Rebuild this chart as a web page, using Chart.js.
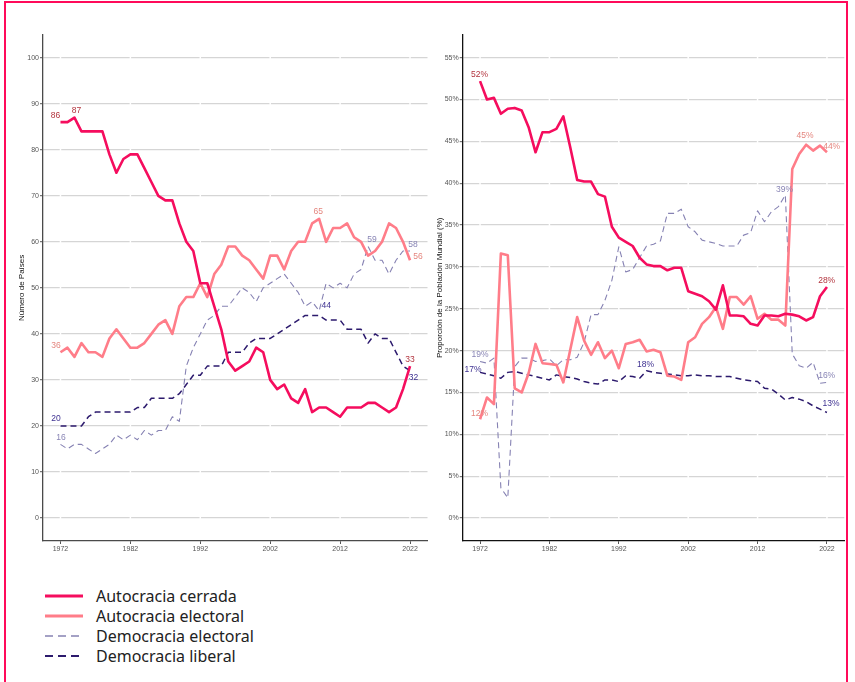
<!DOCTYPE html>
<html lang="es">
<head>
<meta charset="utf-8">
<title>Regímenes políticos en el mundo, 1972–2022</title>
<script src="https://cdn.jsdelivr.net/npm/chart.js@4.4.1/dist/chart.umd.min.js"></script>
<style>
  html, body { margin: 0; padding: 0; background: #fff; }
  body { width: 855px; height: 682px; position: relative; overflow: hidden; }
  #frame { position: absolute; left: 4px; top: 1px; width: 844px; height: 700px;
           border: 2.5px solid #ff0a5a; border-bottom: none; box-sizing: border-box; }
  canvas { position: absolute; top: 0; }
  #countChart { left: 0; }
  #shareChart { left: 435px; }
  .key { position: absolute; left: 0; height: 22px; width: 300px;
         font: 16px "Noto Sans", "Open Sans", sans-serif; line-height: 22px; color: #222; }
  .key svg { position: absolute; left: 45px; top: 8px; }
  .key span { position: absolute; left: 96px; top: 0; white-space: nowrap; }
</style>
</head>
<body>
<div id="frame"></div>
<canvas id="countChart" width="435" height="560"></canvas>
<canvas id="shareChart" width="420" height="560"></canvas>
<div id="legend"></div>

<script>
// Years on the horizontal axis
const years = [1972, 1973, 1974, 1975, 1976, 1977, 1978, 1979, 1980, 1981,
               1982, 1983, 1984, 1985, 1986, 1987, 1988, 1989, 1990, 1991,
               1992, 1993, 1994, 1995, 1996, 1997, 1998, 1999, 2000, 2001,
               2002, 2003, 2004, 2005, 2006, 2007, 2008, 2009, 2010, 2011,
               2012, 2013, 2014, 2015, 2016, 2017, 2018, 2019, 2020, 2021, 2022];
const yearTicks = [1972, 1982, 1992, 2002, 2012, 2022];
const countTicks = [0, 10, 20, 30, 40, 50, 60, 70, 80, 90, 100];
const shareTicks = [0, 5, 10, 15, 20, 25, 30, 35, 40, 45, 50, 55];

const regimeNames = ["Autocracia cerrada", "Autocracia electoral", "Democracia electoral", "Democracia liberal"];

// Number of countries per regime type
const closedCount = [86, 86, 87, 84, 84, 84, 84, 79, 75, 78,
                     79, 79, 76, 73, 70, 69, 69, 64, 60, 58,
                     51, 51, 46, 41, 34, 32, 33, 34, 37, 36,
                     30, 28, 29, 26, 25, 28, 23, 24, 24, 23,
                     22, 24, 24, 24, 25, 25, 24, 23, 24, 28, 33];
const electoralAutCount = [36, 37, 35, 38, 36, 36, 35, 39, 41, 39,
                           37, 37, 38, 40, 42, 43, 40, 46, 48, 48,
                           51, 48, 53, 55, 59, 59, 57, 56, 54, 52,
                           57, 57, 54, 58, 60, 60, 64, 65, 60, 63,
                           63, 64, 61, 60, 57, 58, 60, 64, 63, 60, 56];
const electoralDemCount = [16, 15, 16, 16, 15, 14, 15, 16, 18, 17,
                           18, 17, 19, 18, 19, 19, 22, 21, 33, 37,
                           40, 43, 44, 46, 46, 48, 50, 49, 47, 50,
                           51, 52, 53, 51, 49, 46, 47, 45, 51, 50,
                           51, 50, 53, 54, 59, 56, 56, 53, 56, 58, 58];
const liberalDemCount = [20, 20, 20, 20, 22, 23, 23, 23, 23, 23,
                         23, 24, 24, 26, 26, 26, 26, 27, 29, 31,
                         31, 33, 33, 33, 36, 36, 36, 38, 39, 39,
                         39, 40, 41, 42, 43, 44, 44, 44, 43, 43,
                         43, 41, 41, 41, 38, 40, 39, 39, 36, 33, 32];

// Share of world population (%) per regime type
const closedShare = [52.2, 50.0, 50.2, 48.3, 48.9, 49.0, 48.7, 46.7, 43.7, 46.1,
                     46.1, 46.5, 48.0, 44.3, 40.4, 40.2, 40.2, 38.7, 38.4, 34.8,
                     33.5, 33.0, 32.5, 31.1, 30.3, 30.1, 30.1, 29.6, 29.9, 29.9,
                     27.1, 26.8, 26.5, 25.9, 24.9, 27.8, 24.2, 24.2, 24.1, 23.2,
                     23.0, 24.2, 24.2, 24.1, 24.4, 24.3, 24.1, 23.6, 24.0, 26.5, 27.6];
const electoralAutShare = [11.8, 14.4, 13.6, 31.6, 31.4, 15.5, 15.0, 17.3, 20.8, 18.5,
                           18.4, 18.3, 16.2, 20.1, 24.0, 21.2, 19.5, 21.0, 19.1, 20.0,
                           17.9, 20.8, 21.0, 21.3, 19.9, 20.1, 19.8, 17.0, 16.9, 16.5,
                           21.0, 21.6, 23.2, 24.0, 25.2, 22.6, 26.4, 26.4, 25.5, 26.5,
                           23.8, 24.4, 23.7, 23.7, 23.0, 41.7, 43.5, 44.6, 43.9, 44.5, 43.7];
const electoralDemShare = [18.7, 18.5, 19.1, 3.6, 2.4, 18.1, 19.1, 19.1, 18.7, 18.8,
                           19.0, 18.2, 18.9, 18.9, 19.2, 21.0, 24.3, 24.3, 26.0, 28.4,
                           32.4, 29.4, 29.7, 31.1, 32.5, 32.7, 33.1, 36.4, 36.4, 36.9,
                           34.8, 34.2, 33.2, 33.0, 32.8, 32.5, 32.5, 32.5, 33.8, 34.1,
                           36.7, 35.4, 36.6, 37.2, 38.6, 19.6, 18.2, 17.9, 18.6, 16.1, 16.2];
const liberalDemShare = [17.4, 17.2, 17.0, 16.7, 17.4, 17.5, 17.3, 17.1, 16.9, 16.7,
                         16.5, 17.1, 16.9, 16.8, 16.6, 16.3, 16.1, 16.0, 16.5, 16.5,
                         16.3, 17.0, 16.9, 16.7, 17.6, 17.4, 17.3, 17.2, 17.1, 17.0,
                         17.0, 17.1, 17.0, 17.0, 16.9, 16.9, 16.9, 16.7, 16.5, 16.4,
                         16.3, 15.5, 15.4, 14.8, 14.1, 14.4, 14.2, 13.9, 13.4, 13.0, 12.6];

// Line styles per regime (same order as regimeNames)
const lineStyles = [
  { color: "#f50d5e", width: 2.6, dash: [],     labelColor: "#b3353f", keyWidth: 3,   keyDash: "" },
  { color: "#ff7d89", width: 2.6, dash: [],     labelColor: "#e4867f", keyWidth: 3,   keyDash: "" },
  { color: "#8682b3", width: 1.1, dash: [6, 4], labelColor: "#8985b5", keyWidth: 1.3, keyDash: "8 5" },
  { color: "#2c1a6d", width: 1.5, dash: [6, 4], labelColor: "#3e3191", keyWidth: 1.8, keyDash: "8 5" }
];

const TICK_FONT = { family: "'Liberation Sans', Arial, sans-serif", size: 7 };
const TITLE_FONT = { family: "'Liberation Sans', Arial, sans-serif", size: 8 };
const LABEL_FONT = "8.5px 'Liberation Sans', Arial, sans-serif";

function toPoints(values) {
  return values.map((v, i) => ({ x: years[i], y: v }));
}

function buildDatasets(seriesList) {
  return seriesList.map((values, k) => ({
    label: regimeNames[k],
    data: toPoints(values),
    borderColor: lineStyles[k].color,
    backgroundColor: lineStyles[k].color,
    borderWidth: lineStyles[k].width,
    borderDash: lineStyles[k].dash,
    borderCapStyle: "butt",
    borderJoinStyle: "round",
    pointRadius: 0,
    tension: 0,
    fill: false
  }));
}

// Value annotations: [series, year, dx, dy]
const countLabels = [
  [0, 1972, -5, -6.5], [0, 1974, 2, -7], [0, 2022, 0, -6.2],
  [1, 1972, -4.5, -6.7], [1, 2009, -1, -7], [1, 2022, 8, -3.4],
  [2, 1972, 0.5, -6.7], [2, 2016, 4, -6.6], [2, 2022, 3, -6],
  [3, 1972, -4.5, -7], [3, 2009, 7, -9.6], [3, 2022, 3.5, 7]
];
const shareLabels = [
  [0, 1972, -0.5, -6], [0, 2022, -0.3, -6],
  [1, 1972, -0.5, -5.4], [1, 2019, -1.2, -8.9], [1, 2022, 4.7, -5.4],
  [2, 1972, 0, -6.4], [2, 2016, -0.7, -5], [2, 2022, -0.3, -6.4],
  [3, 1972, -7, -3], [3, 1996, -1, -6.4], [3, 2022, 4, -8.7]
];

const valueLabelPlugin = {
  id: "valueLabels",
  afterDatasetsDraw(chart, args, opts) {
    const ctx = chart.ctx;
    ctx.save();
    ctx.font = LABEL_FONT;
    ctx.textAlign = "center";
    ctx.textBaseline = "middle";
    opts.items.forEach(([k, yr, dx, dy]) => {
      const idx = years.indexOf(yr);
      const pt = chart.getDatasetMeta(k).data[idx];
      const v = chart.data.datasets[k].data[idx].y;
      ctx.fillStyle = lineStyles[k].labelColor;
      ctx.fillText(Math.round(v) + opts.suffix, pt.x + dx, pt.y + dy);
    });
    ctx.restore();
  }
};

// Thin white vertical breaks in the horizontal grid at each year tick
const gridBreakPlugin = {
  id: "gridBreaks",
  beforeDatasetsDraw(chart) {
    const { ctx, chartArea, scales } = chart;
    ctx.save();
    ctx.strokeStyle = "#ffffff";
    ctx.lineWidth = 1.5;
    yearTicks.forEach(yr => {
      const x = scales.x.getPixelForValue(yr);
      ctx.beginPath();
      ctx.moveTo(x, chartArea.top);
      ctx.lineTo(x, chartArea.bottom - 1);
      ctx.stroke();
    });
    ctx.restore();
  }
};

function makeOptions(p) {
  return {
    responsive: false,
    animation: false,
    events: [],
    layout: { autoPadding: false, padding: { left: 0, right: p.padRight, top: 34.7, bottom: 4 } },
    plugins: {
      legend: { display: false },
      tooltip: { enabled: false },
      valueLabels: { items: p.labels, suffix: p.suffix }
    },
    scales: {
      x: {
        type: "linear", min: 1969.5, max: 2024.5,
        afterBuildTicks: s => { s.ticks = yearTicks.map(v => ({ value: v })); },
        afterFit: s => { s.height = 15; },
        grid: { drawOnChartArea: false, drawTicks: true, tickLength: 3, tickColor: "#555", lineWidth: 1 },
        border: { display: true, color: p.axisColor, width: 1.3 },
        ticks: { font: TICK_FONT, color: "#555", padding: 1, maxRotation: 0, autoSkip: false,
                 callback: v => String(v) }
      },
      y: {
        type: "linear", min: p.yMin, max: p.yMax,
        afterBuildTicks: s => { s.ticks = p.yTicks.map(v => ({ value: v })); },
        afterFit: s => { s.width = p.axisWidth; },
        grid: { color: "#d5d5d5", lineWidth: 1.2, tickLength: 3, tickColor: "#777" },
        border: { display: true, color: p.axisColor, width: 1.3 },
        ticks: { font: TICK_FONT, color: "#555", padding: 1, autoSkip: false,
                 callback: v => v + p.suffix },
        title: { display: true, text: p.title, font: TITLE_FONT, color: "#111",
                 padding: { top: p.titlePad, bottom: 0 } }
      }
    }
  };
}

new Chart(document.getElementById("countChart"), {
  type: "line",
  data: { datasets: buildDatasets([closedCount, electoralAutCount, electoralDemCount, liberalDemCount]) },
  options: makeOptions({
    padRight: 7.5, yMin: -5, yMax: 105, yTicks: countTicks, axisWidth: 43,
    axisColor: "#4a4a4a", suffix: "", title: "Número de Países", titlePad: 16.5, labels: countLabels
  }),
  plugins: [gridBreakPlugin, valueLabelPlugin]
});

new Chart(document.getElementById("shareChart"), {
  type: "line",
  data: { datasets: buildDatasets([closedShare, electoralAutShare, electoralDemShare, liberalDemShare]) },
  options: makeOptions({
    padRight: 10.7, yMin: -2.75, yMax: 57.75, yTicks: shareTicks, axisWidth: 27.7,
    axisColor: "#111", suffix: "%", title: "Proporción de la Población Mundial (%)", titlePad: 0, labels: shareLabels
  }),
  plugins: [gridBreakPlugin, valueLabelPlugin]
});

// Legend rows
const legend = document.getElementById("legend");
regimeNames.forEach((name, k) => {
  const st = lineStyles[k];
  const row = document.createElement("div");
  row.className = "key";
  row.style.top = (584.8 + 20.2 * k) + "px";
  row.innerHTML =
    '<svg width="40" height="6"><line x1="0" y1="3" x2="38" y2="3" stroke="' + st.color +
    '" stroke-width="' + st.keyWidth + '"' + (st.keyDash ? ' stroke-dasharray="' + st.keyDash + '"' : "") +
    '/></svg><span>' + name + '</span>';
  legend.appendChild(row);
});
</script>
</body>
</html>
